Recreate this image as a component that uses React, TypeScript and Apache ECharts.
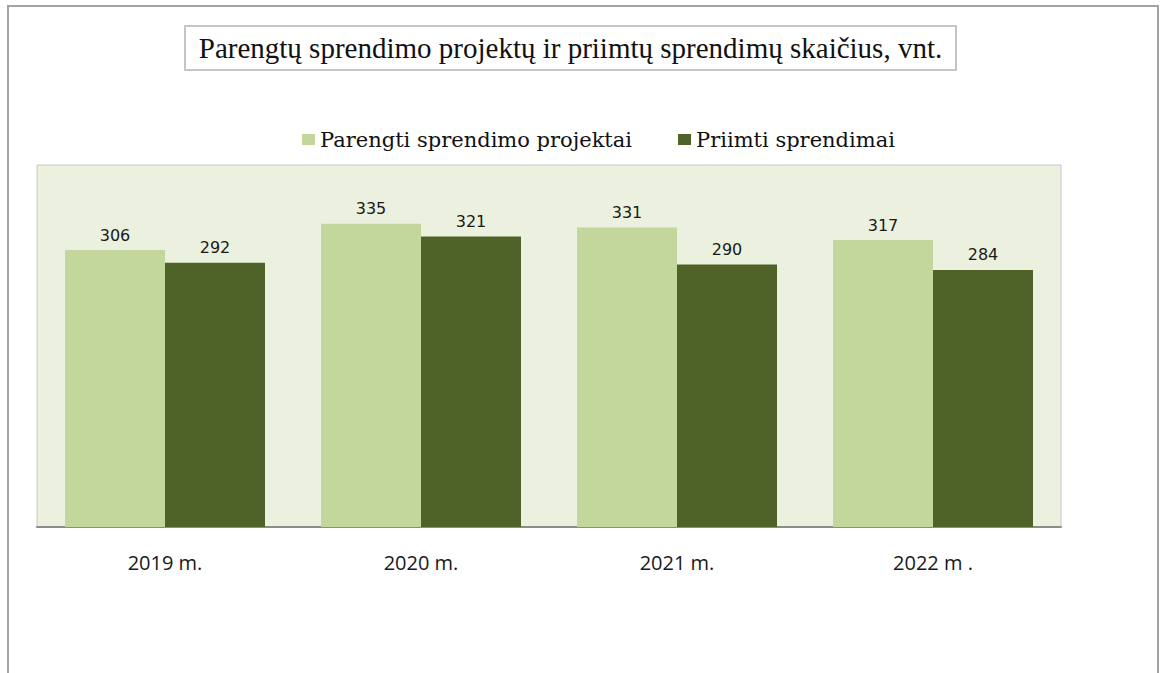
import React, { useEffect, useRef } from "react";
import * as echarts from "echarts";

const categories = ["2019 m.", "2020 m.", "2021 m.", "2022 m ."];
const seriesNames = ["Parengti sprendimo projektai", "Priimti sprendimai"];
const prepared = [306, 335, 331, 317];
const adopted = [292, 321, 290, 284];
const titleText = "Parengtų sprendimo projektų ir priimtų sprendimų skaičius, vnt.";

export default function App() {
  const ref = useRef<HTMLDivElement>(null);
  useEffect(() => {
    if (!ref.current) return;
    const chart = echarts.init(ref.current, undefined, { renderer: "svg" });
    const labelStyle = {
      show: true,
      position: "top" as const,
      distance: 7,
      fontFamily: "DejaVu Sans",
      fontSize: 16,
      color: "#1a1a1a",
    };
    chart.setOption({
      animation: false,
      backgroundColor: "#ffffff",
      graphic: [
        {
          type: "rect",
          shape: { x: 8, y: 6, width: 1150, height: 720 },
          style: { fill: "none", stroke: "#a3a3a3", lineWidth: 2 },
          silent: true,
        },
        {
          type: "rect",
          shape: { x: 185, y: 26, width: 771, height: 44 },
          style: { fill: "#ffffff", stroke: "#c6c6c6", lineWidth: 2 },
          silent: true,
        },
        {
          type: "text",
          x: 570.5,
          y: 48,
          style: {
            text: titleText,
            fontFamily: "Liberation Serif",
            fontSize: 29,
            fill: "#111111",
            align: "center",
            verticalAlign: "middle",
          },
          silent: true,
        },
      ],
      legend: {
        left: 297,
        top: 124,
        itemWidth: 13,
        itemHeight: 11,
        itemGap: 46,
        icon: "rect",
        textStyle: { fontFamily: "DejaVu Serif", fontSize: 21, color: "#111111" },
        data: seriesNames,
      },
      grid: {
        left: 37,
        top: 165,
        width: 1024,
        height: 362,
        show: true,
        backgroundColor: "#ebf1de",
        borderColor: "#c8c8c8",
        borderWidth: 1,
      },
      xAxis: {
        type: "category",
        data: categories,
        axisLine: { show: true, lineStyle: { color: "#8c8c8c", width: 2 } },
        axisTick: { show: false },
        axisLabel: {
          margin: 25,
          fontFamily: "Open Sans",
          fontSize: 20,
          color: "#1a1a1a",
        },
      },
      yAxis: {
        type: "value",
        min: 0,
        max: 400,
        show: false,
        splitLine: { show: false },
      },
      series: [
        {
          name: seriesNames[0],
          type: "bar",
          data: prepared,
          barWidth: 100,
          barGap: "0%",
          itemStyle: { color: "#c3d69b" },
          label: labelStyle,
        },
        {
          name: seriesNames[1],
          type: "bar",
          data: adopted,
          barWidth: 100,
          barGap: "0%",
          itemStyle: { color: "#4f6228" },
          label: labelStyle,
        },
      ],
    });
    return () => chart.dispose();
  }, []);
  return (
    <div
      ref={ref}
      style={{ position: "absolute", left: 0, top: 0, width: 1160, height: 673 }}
    />
  );
}
